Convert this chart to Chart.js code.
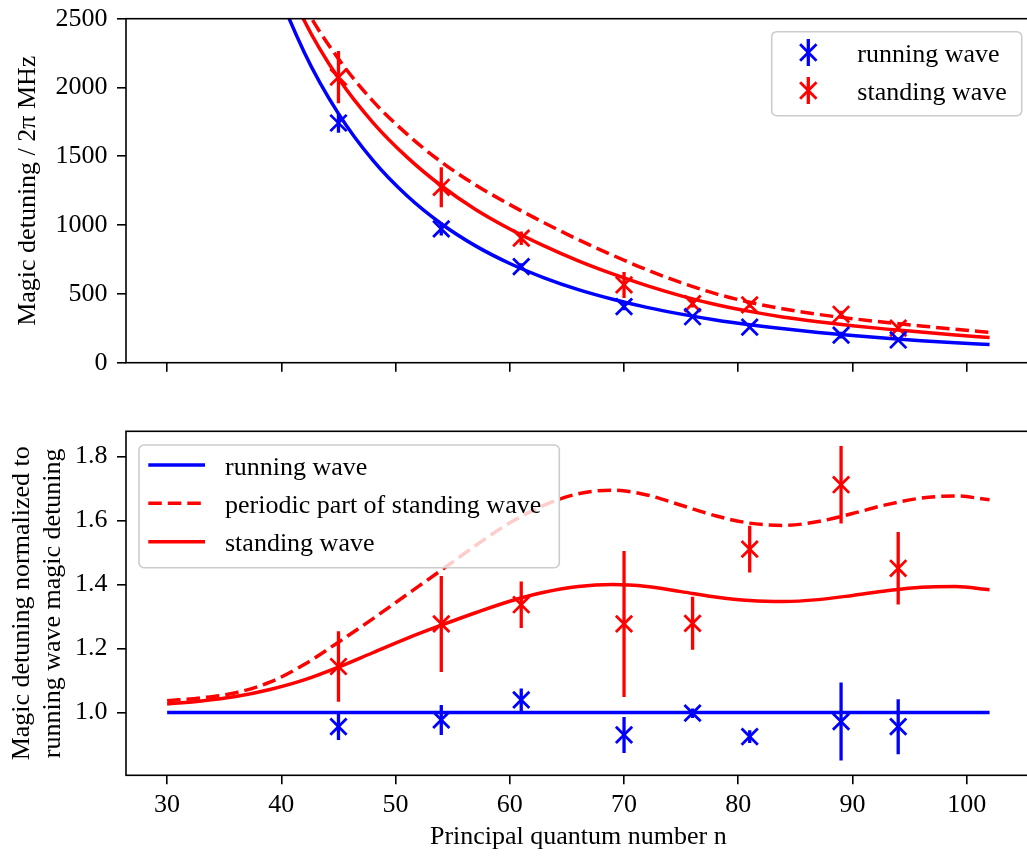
<!DOCTYPE html>
<html><head><meta charset="utf-8">
<script src="https://cdn.jsdelivr.net/npm/chart.js@4.4.1/dist/chart.umd.min.js"></script>
<style>
html,body{margin:0;padding:0;background:#fff;overflow:hidden;width:1027px;height:860px}
canvas{position:absolute;left:0}
#c1{top:0}
#c2{top:400px}
</style></head>
<body>
<canvas id="c1" width="1045" height="400"></canvas>
<canvas id="c2" width="1045" height="460"></canvas>
<script>
// ---------- data ----------
const nData = [45, 54, 61, 70, 76, 81, 89, 94];
const runAbs = [1742, 972, 698, 407, 334, 258, 200, 165];
const runAbsErr = [70, 47, 24, 25, 8, 8, 25, 15];
const standAbs = [2075, 1275, 905, 565, 430, 421, 352, 251];
const standAbsErr = [190, 145, 49, 95, 28, 22, 25, 20];
const runRel = [0.956, 0.977, 1.040, 0.930, 0.998, 0.925, 0.972, 0.956];
const runRelErr = [0.042, 0.047, 0.035, 0.056, 0.015, 0.02, 0.122, 0.086];
const standRel = [1.144, 1.277, 1.337, 1.277, 1.279, 1.511, 1.712, 1.451];
const standRelErr = [0.11, 0.15, 0.073, 0.228, 0.083, 0.073, 0.121, 0.113];

const nFit = [30, 33, 36, 39, 42, 45, 48, 51, 54, 57, 60, 63, 66, 69, 72, 75, 78, 81, 84, 87, 90, 93, 96, 99, 102];
const runFitAbs = [6625, 4884, 3696, 2862, 2257, 1810, 1472, 1213, 1010, 849, 721, 617, 531, 461, 402, 353, 311, 276, 246, 220, 197, 177, 160, 145, 132];
const standFitAbs = [6804, 5060, 3881, 3068, 2487, 2067, 1747, 1494, 1286, 1114, 972, 849, 740, 645, 560, 486, 423, 373, 331, 298, 269, 244, 223, 202, 183];
const periodicFitAbs = [6870, 5109, 3925, 3134, 2596, 2208, 1903, 1661, 1459, 1292, 1149, 1017, 894, 781, 675, 582, 502, 439, 390, 351, 320, 292, 267, 243, 220];
const standFitRel = [1.027, 1.036, 1.050, 1.072, 1.102, 1.142, 1.187, 1.232, 1.273, 1.312, 1.348, 1.376, 1.394, 1.400, 1.394, 1.378, 1.361, 1.350, 1.347, 1.353, 1.366, 1.381, 1.392, 1.394, 1.384];
const periodicFitRel = [1.037, 1.046, 1.062, 1.095, 1.150, 1.220, 1.293, 1.369, 1.445, 1.522, 1.593, 1.648, 1.684, 1.695, 1.680, 1.648, 1.615, 1.592, 1.585, 1.597, 1.622, 1.650, 1.670, 1.677, 1.665];
const nRunLine = [30, 102];
const runFitRel = [1.0, 1.0];

const xTicks = [30, 40, 50, 60, 70, 80, 90, 100];
const yTicksTop = [0, 500, 1000, 1500, 2000, 2500];
const yTicksBottom = [1.0, 1.2, 1.4, 1.6, 1.8];
const yTickLabelsBottom = ['1.0', '1.2', '1.4', '1.6', '1.8'];

const topLegendLabels = ['running wave', 'standing wave'];
const bottomLegendLabels = ['running wave', 'periodic part of standing wave', 'standing wave'];
const xTitle = 'Principal quantum number n';
const yTitleTop = 'Magic detuning / 2\u03c0 MHz';
const yTitleBottom = ['Magic detuning normalized to', 'running wave magic detuning'];

// ---------- helpers ----------
const BLUE = '#0000ff', RED = '#ff0000';
const FONT = 'Liberation Serif';
const FS = 26;
const LW = 3.5;
const DASH = [13.5, 6];
const pts = (xs, ys) => xs.map((x, i) => ({x: x, y: ys[i]}));

function lineDs(xs, ys, color, dash) {
  return {data: pts(xs, ys), showLine: true, borderColor: color, backgroundColor: color,
    borderWidth: LW, borderDash: dash || [], pointRadius: 0, pointHoverRadius: 0,
    cubicInterpolationMode: 'monotone', order: 2};
}
function pointDs(xs, ys, color) {
  return {data: pts(xs, ys), showLine: false, pointStyle: 'crossRot', pointRadius: 11.5,
    pointBorderWidth: 2.8, borderColor: color, backgroundColor: color, pointHoverRadius: 11.5, order: 1};
}

function frameBox(ctx, x, y, w, h) {
  ctx.save();
  ctx.beginPath();
  ctx.roundRect(x, y, w, h, 5);
  ctx.fillStyle = 'rgba(255,255,255,0.8)';
  ctx.fill();
  ctx.strokeStyle = '#cccccc';
  ctx.lineWidth = 1.6;
  ctx.stroke();
  ctx.restore();
}
function drawX(ctx, cx, cy, hw, color) {
  ctx.save();
  ctx.strokeStyle = color; ctx.lineWidth = 2.8;
  ctx.beginPath();
  ctx.moveTo(cx - hw, cy - hw); ctx.lineTo(cx + hw, cy + hw);
  ctx.moveTo(cx + hw, cy - hw); ctx.lineTo(cx - hw, cy + hw);
  ctx.stroke();
  ctx.restore();
}

function decorPlugin(errSets, legendFn) {
  return {
    id: 'decor',
    afterDatasetsDraw(chart) {
      const {ctx, chartArea: a, scales} = chart;
      ctx.save();
      ctx.beginPath();
      ctx.rect(a.left, a.top, a.right - a.left, a.bottom - a.top);
      ctx.clip();
      errSets.forEach(e => {
        ctx.strokeStyle = e.color; ctx.lineWidth = 3.3;
        e.x.forEach((xv, i) => {
          const px = scales.x.getPixelForValue(xv);
          const y1 = scales.y.getPixelForValue(e.y[i] - e.err[i]);
          const y2 = scales.y.getPixelForValue(e.y[i] + e.err[i]);
          ctx.beginPath(); ctx.moveTo(px, y1); ctx.lineTo(px, y2); ctx.stroke();
        });
      });
      ctx.restore();
      ctx.save();
      ctx.strokeStyle = '#000'; ctx.lineWidth = 1.6;
      ctx.strokeRect(a.left, a.top, a.right - a.left, a.bottom - a.top);
      ctx.restore();
    },
    afterDraw(chart) { legendFn(chart.ctx); }
  };
}

function zeroPad(s) { s.paddingTop = 0; s.paddingBottom = 0; s.paddingLeft = 0; s.paddingRight = 0; }

function xScale(showLabels, height) {
  return {
    type: 'linear', min: 26.4, max: 105.6,
    afterBuildTicks: s => { s.ticks = xTicks.map(v => ({value: v})); },
    afterFit: s => { s.height = height; zeroPad(s); },
    border: {display: false},
    grid: {drawOnChartArea: false, drawTicks: true, tickLength: 9, tickWidth: 1.6, tickColor: '#000', color: '#000', lineWidth: 1.6},
    ticks: {display: showLabels, font: {family: FONT, size: FS}, color: '#000', padding: 5, maxRotation: 0,
      callback: (v) => String(v)},
    title: showLabels ? {display: true, text: xTitle, font: {family: FONT, size: FS}, color: '#000', padding: {top: 0, bottom: 7.4}} : {display: false}
  };
}
function yScale(min, max, ticks, labels, title, pad) {
  return {
    type: 'linear', min: min, max: max,
    afterBuildTicks: s => { s.ticks = ticks.map(v => ({value: v})); },
    afterFit: s => { s.width = 126; zeroPad(s); },
    border: {display: false},
    grid: {drawOnChartArea: false, drawTicks: true, tickLength: 9, tickWidth: 1.6, tickColor: '#000', color: '#000', lineWidth: 1.6},
    ticks: {font: {family: FONT, size: FS}, color: '#000', padding: 9.5,
      callback: (v, i) => labels ? labels[i] : String(v)},
    title: {display: true, text: title, font: {family: FONT, size: FS}, color: '#000', padding: {top: pad, bottom: 0}}
  };
}

// ---------- top chart ----------
function topLegend(ctx) {
  frameBox(ctx, 771.7, 31.7, 250, 84);
  const rows = [52.5, 90.5];
  const cols = [BLUE, RED];
  ctx.save();
  rows.forEach((cy, i) => {
    ctx.strokeStyle = cols[i]; ctx.lineWidth = 3.3;
    ctx.beginPath(); ctx.moveTo(808.3, cy - 13.5); ctx.lineTo(808.3, cy + 13.5); ctx.stroke();
    drawX(ctx, 808.3, cy, 8.2, cols[i]);
    ctx.fillStyle = '#000';
    ctx.font = FS + 'px "' + FONT + '"';
    ctx.textBaseline = 'alphabetic'; ctx.textAlign = 'left';
    ctx.fillText(topLegendLabels[i], 857.3, cy + 9.2);
  });
  ctx.restore();
}

new Chart(document.getElementById('c1'), {
  type: 'scatter',
  data: {datasets: [
    pointDs(nData, runAbs, BLUE),
    pointDs(nData, standAbs, RED),
    lineDs(nFit, runFitAbs, BLUE),
    lineDs(nFit, periodicFitAbs, RED, DASH),
    lineDs(nFit, standFitAbs, RED)
  ]},
  options: {
    responsive: false, animation: false, devicePixelRatio: 1,
    layout: {padding: {left: 0, right: 11, top: 18.7, bottom: 0}},
    plugins: {legend: {display: false}, tooltip: {enabled: false}},
    scales: {
      x: xScale(false, 37.3),
      y: yScale(0, 2500, yTicksTop, null, yTitleTop, 12.9)
    }
  },
  plugins: [decorPlugin([
    {x: nData, y: runAbs, err: runAbsErr, color: BLUE},
    {x: nData, y: standAbs, err: standAbsErr, color: RED}
  ], topLegend)]
});

// ---------- bottom chart ----------
function bottomLegend(ctx) {
  frameBox(ctx, 139, 45, 420.3, 122.7);
  const rows = [65, 103.3, 141.7];
  const cols = [BLUE, RED, RED];
  const dashes = [[], DASH, []];
  ctx.save();
  rows.forEach((cy, i) => {
    ctx.strokeStyle = cols[i]; ctx.lineWidth = LW; ctx.setLineDash(dashes[i]);
    ctx.beginPath(); ctx.moveTo(148.3, cy); ctx.lineTo(205, cy); ctx.stroke();
    ctx.setLineDash([]);
    ctx.fillStyle = '#000';
    ctx.font = FS + 'px "' + FONT + '"';
    ctx.textBaseline = 'alphabetic'; ctx.textAlign = 'left';
    ctx.fillText(bottomLegendLabels[i], 225, cy + 9.5);
  });
  ctx.restore();
}

new Chart(document.getElementById('c2'), {
  type: 'scatter',
  data: {datasets: [
    pointDs(nData, runRel, BLUE),
    pointDs(nData, standRel, RED),
    lineDs(nRunLine, runFitRel, BLUE),
    lineDs(nFit, periodicFitRel, RED, DASH),
    lineDs(nFit, standFitRel, RED)
  ]},
  options: {
    responsive: false, animation: false, devicePixelRatio: 1,
    layout: {padding: {left: 0, right: 11, top: 31.3, bottom: 0}},
    plugins: {legend: {display: false}, tooltip: {enabled: false}},
    scales: {
      x: xScale(true, 84.7),
      y: yScale(0.804, 1.879, yTicksBottom, yTickLabelsBottom, yTitleBottom, 6.6)
    }
  },
  plugins: [decorPlugin([
    {x: nData, y: runRel, err: runRelErr, color: BLUE},
    {x: nData, y: standRel, err: standRelErr, color: RED}
  ], bottomLegend)]
});
</script>
</body></html>
